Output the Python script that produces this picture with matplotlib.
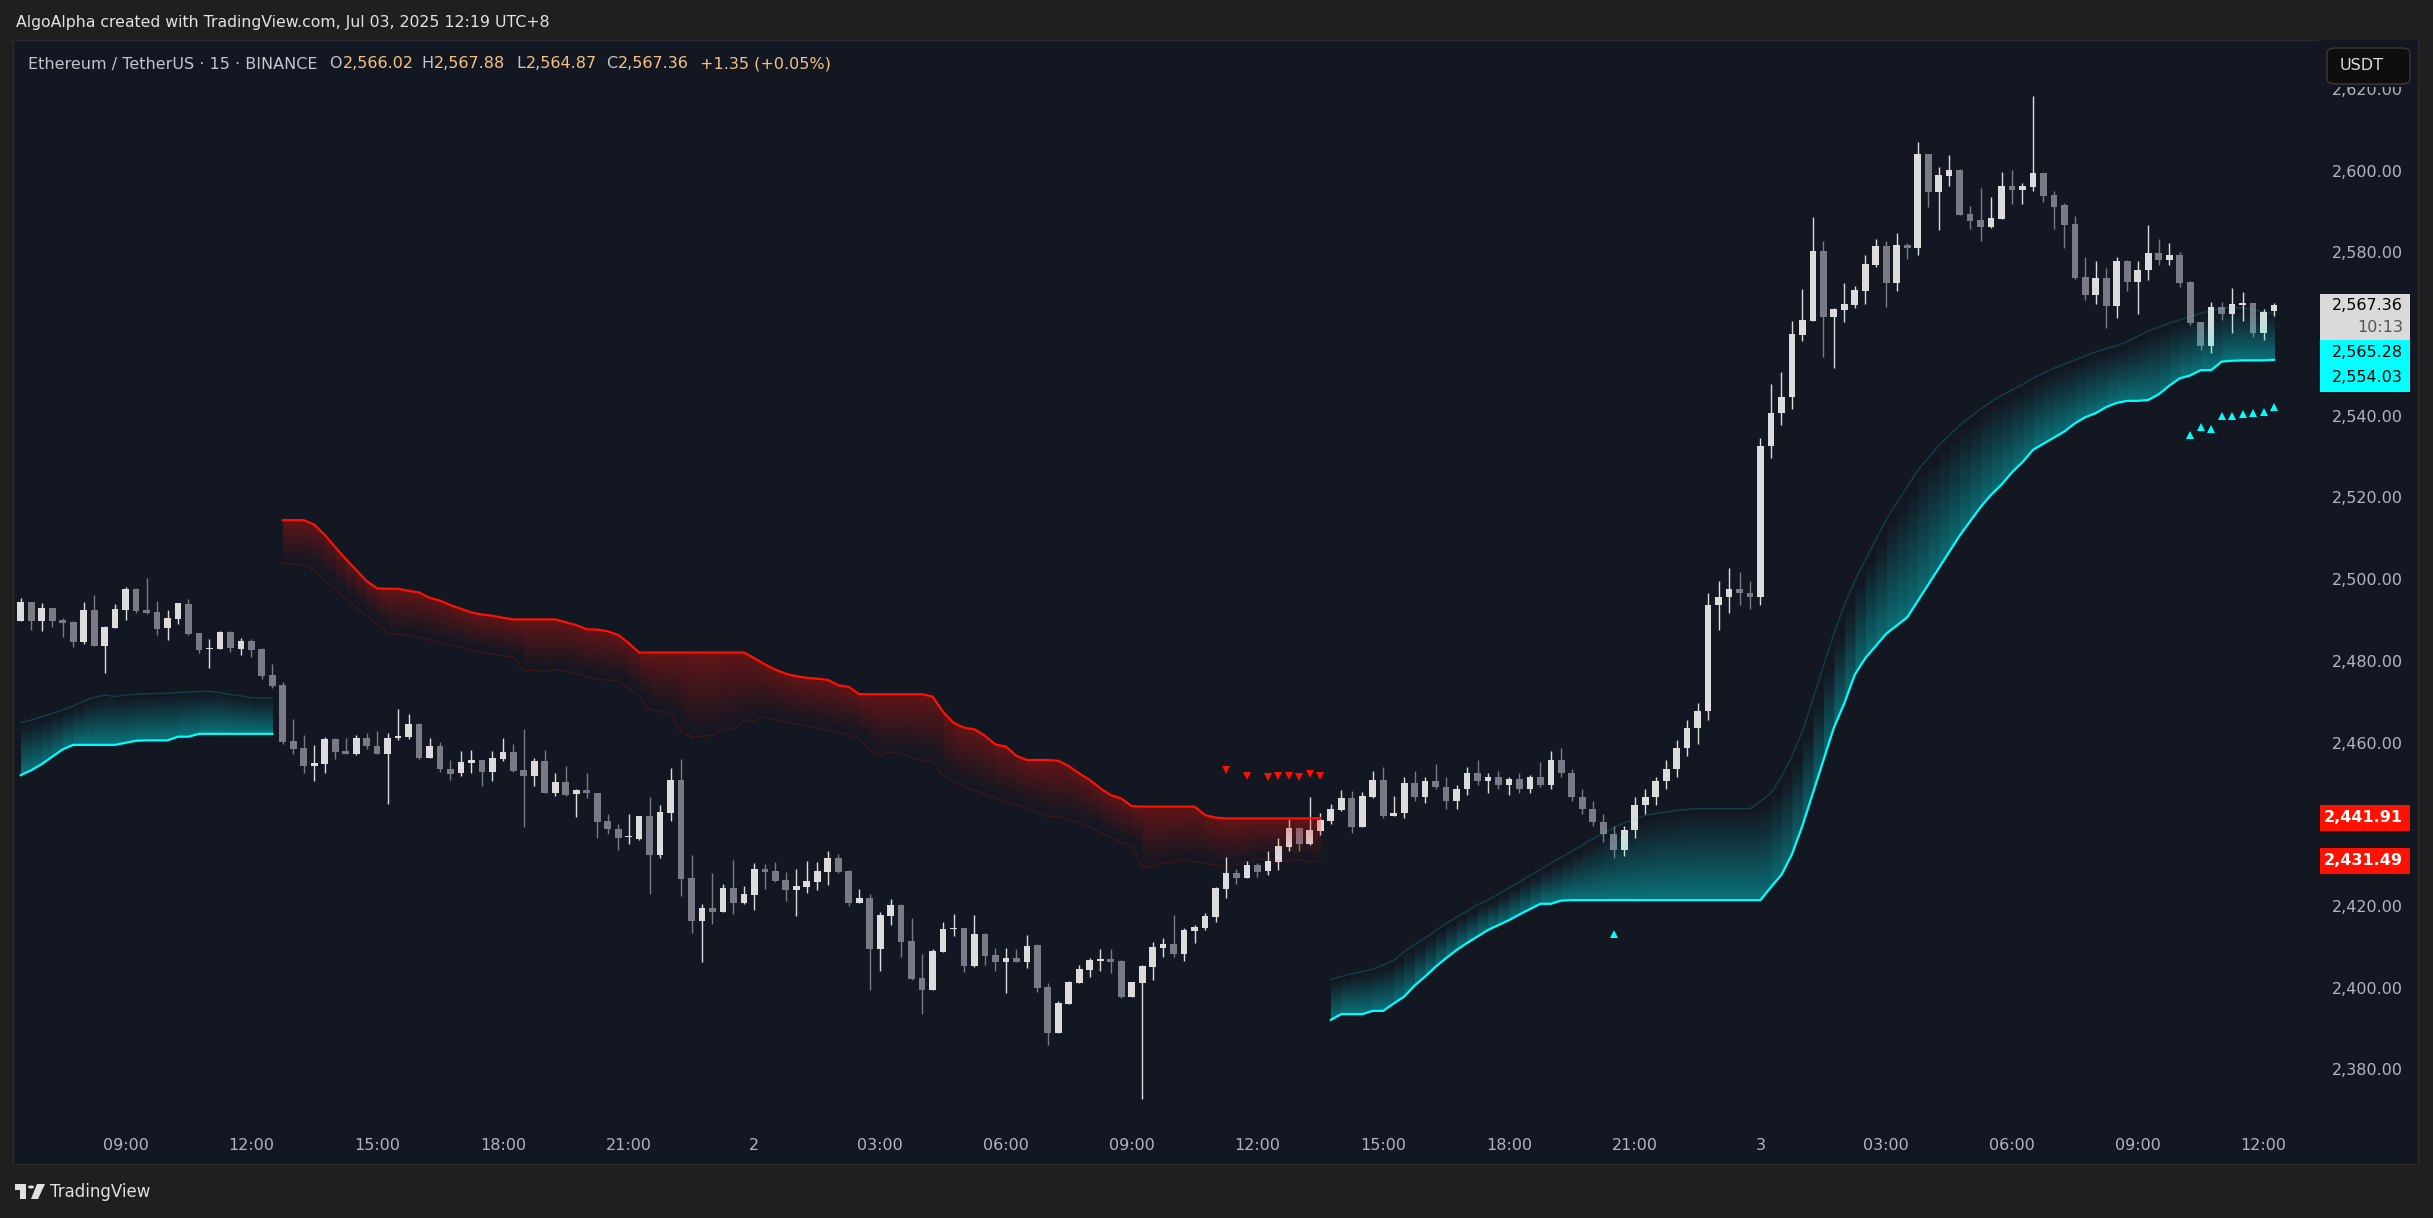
import numpy as np
import pandas as pd
import matplotlib

matplotlib.use("Agg")

import matplotlib.pyplot as plt
import matplotlib.colors as mcolors
import matplotlib.transforms as mtransforms
from matplotlib.patches import Rectangle, FancyBboxPatch, Circle, Polygon


# ETHUSDT 15m candles, first bar is Jul 1 06:30
start_time = "2025-07-01 06:30"

opens = [
    2490.1, 2494.7, 2490.0, 2493.2, 2490.4, 2489.9, 2485.0, 2492.8, 2484.1, 2488.5,
    2492.8, 2497.9, 2492.8, 2492.3, 2488.5, 2490.6, 2494.3, 2487.2, 2483.3, 2483.3,
    2487.4, 2483.3, 2485.2, 2483.3, 2476.9, 2474.4, 2460.7, 2459.0, 2454.7, 2455.2,
    2461.2, 2458.3, 2457.6, 2461.5, 2459.5, 2457.6, 2461.6, 2461.8, 2464.9, 2456.7,
    2459.5, 2454.0, 2452.8, 2455.4, 2456.1, 2453.1, 2456.3, 2458.0, 2453.6, 2452.2,
    2455.8, 2448.1, 2450.7, 2447.7, 2448.7, 2447.9, 2441.2, 2439.2, 2437.2, 2436.8,
    2442.4, 2432.9, 2443.2, 2451.2, 2427.2, 2416.8, 2419.9, 2419.0, 2424.8, 2421.2,
    2423.1, 2429.4, 2428.9, 2426.7, 2424.4, 2425.1, 2426.3, 2428.8, 2432.1, 2428.9,
    2421.2, 2422.3, 2409.9, 2418.0, 2420.6, 2411.8, 2402.7, 2399.9, 2409.2, 2414.8,
    2415.0, 2405.8, 2413.5, 2408.4, 2406.7, 2407.6, 2406.7, 2410.8, 2400.5, 2389.4,
    2396.4, 2401.6, 2404.8, 2407.0, 2407.4, 2406.9, 2398.2, 2401.6, 2405.5, 2410.2,
    2411.0, 2408.7, 2414.3, 2415.1, 2417.7, 2424.5, 2428.4, 2427.3, 2430.4, 2428.9,
    2431.2, 2434.8, 2439.5, 2435.5, 2438.7, 2441.2, 2443.9, 2446.8, 2439.7, 2447.1,
    2451.2, 2442.4, 2443.1, 2450.5, 2447.0, 2451.0, 2449.5, 2446.0, 2449.0, 2453.0,
    2451.0, 2452.0, 2450.0, 2451.5, 2449.0, 2452.0, 2450.0, 2456.0, 2453.0, 2447.0,
    2444.0, 2441.0, 2438.0, 2434.0, 2439.0, 2445.0, 2447.0, 2451.0, 2454.0, 2459.0,
    2464.0, 2468.0, 2494.0, 2496.0, 2498.0, 2497.0, 2496.0, 2533.0, 2541.0, 2545.0,
    2560.1, 2563.6, 2580.7, 2564.4, 2566.2, 2567.5, 2570.9, 2577.3, 2581.9, 2572.9,
    2582.1, 2581.5, 2604.4, 2595.2, 2599.1, 2600.5, 2589.7, 2588.2, 2586.5, 2588.6,
    2596.6, 2595.7, 2596.3, 2599.8, 2594.4, 2591.9, 2587.3, 2574.3, 2570.0, 2574.1,
    2567.3, 2578.2, 2573.2, 2575.9, 2580.2, 2578.5, 2579.7, 2573.1, 2563.4, 2557.4,
    2567.0, 2565.3, 2567.5, 2568.0, 2560.7, 2566.02,
]
highs = [
    2495.7, 2494.8, 2494.4, 2493.4, 2490.8, 2490.0, 2494.7, 2496.5, 2488.9, 2494.2,
    2498.5, 2498.3, 2500.6, 2494.9, 2492.8, 2494.6, 2495.4, 2487.2, 2485.8, 2487.7,
    2487.6, 2485.9, 2485.6, 2483.4, 2479.6, 2475.1, 2466.1, 2462.2, 2459.8, 2461.7,
    2461.4, 2461.5, 2462.2, 2462.6, 2463.3, 2462.6, 2468.5, 2467.3, 2465.1, 2461.4,
    2460.4, 2456.0, 2458.2, 2458.5, 2456.2, 2458.2, 2461.4, 2460.0, 2463.8, 2456.5,
    2458.5, 2452.8, 2454.6, 2448.9, 2452.8, 2448.1, 2443.0, 2440.4, 2442.9, 2442.5,
    2447.0, 2445.1, 2454.1, 2456.3, 2432.8, 2420.8, 2428.4, 2425.7, 2431.6, 2425.3,
    2431.0, 2430.6, 2431.1, 2428.7, 2429.4, 2431.4, 2431.1, 2433.8, 2433.2, 2429.1,
    2424.5, 2423.3, 2418.8, 2422.1, 2420.8, 2417.4, 2408.6, 2409.8, 2416.4, 2418.4,
    2415.1, 2418.2, 2413.7, 2410.1, 2410.1, 2409.9, 2413.2, 2411.0, 2401.4, 2397.1,
    2401.9, 2405.9, 2407.6, 2409.8, 2409.8, 2407.1, 2401.8, 2405.9, 2411.6, 2412.6,
    2418.2, 2414.9, 2415.7, 2418.6, 2425.1, 2432.3, 2429.3, 2431.4, 2430.8, 2433.8,
    2436.9, 2441.7, 2439.8, 2447.0, 2443.1, 2445.3, 2448.8, 2448.5, 2448.3, 2453.4,
    2454.4, 2447.3, 2452.0, 2453.5, 2452.0, 2455.0, 2452.0, 2450.0, 2454.5, 2456.0,
    2453.0, 2453.5, 2452.0, 2453.0, 2452.5, 2455.5, 2458.3, 2459.0, 2454.0, 2449.0,
    2446.0, 2443.0, 2440.0, 2440.0, 2447.0, 2449.0, 2452.0, 2456.0, 2461.0, 2466.0,
    2470.0, 2497.0, 2500.0, 2503.0, 2502.0, 2500.0, 2535.0, 2548.0, 2551.0, 2563.6,
    2571.4, 2589.0, 2583.1, 2566.6, 2572.9, 2572.1, 2579.7, 2583.6, 2583.1, 2585.1,
    2582.6, 2607.3, 2604.4, 2601.2, 2604.2, 2600.7, 2591.7, 2596.1, 2593.9, 2600.0,
    2600.5, 2597.3, 2618.6, 2599.8, 2595.3, 2592.4, 2589.2, 2579.2, 2578.2, 2576.5,
    2579.2, 2578.5, 2578.2, 2587.0, 2583.6, 2582.6, 2580.4, 2573.4, 2563.4, 2568.3,
    2568.3, 2571.7, 2570.7, 2568.0, 2566.4, 2567.88,
]
lows = [
    2490.0, 2487.9, 2487.7, 2488.7, 2486.3, 2483.8, 2484.6, 2484.0, 2477.3, 2488.4,
    2490.4, 2492.0, 2491.9, 2486.7, 2485.5, 2489.4, 2486.8, 2482.2, 2478.7, 2483.2,
    2482.6, 2481.8, 2481.4, 2476.0, 2473.8, 2459.9, 2457.5, 2452.8, 2451.0, 2453.0,
    2456.3, 2457.5, 2457.3, 2458.9, 2457.5, 2445.4, 2461.0, 2461.2, 2456.3, 2456.5,
    2453.1, 2451.3, 2452.2, 2452.8, 2449.8, 2451.0, 2455.8, 2453.2, 2439.8, 2449.7,
    2447.9, 2447.4, 2447.4, 2442.2, 2446.7, 2436.9, 2437.9, 2434.1, 2435.5, 2436.5,
    2423.4, 2432.2, 2441.2, 2422.9, 2413.8, 2406.7, 2416.0, 2418.8, 2418.5, 2420.9,
    2419.4, 2424.5, 2426.2, 2421.7, 2418.0, 2423.6, 2424.4, 2425.6, 2428.5, 2420.4,
    2421.1, 2399.9, 2404.5, 2415.8, 2407.9, 2402.3, 2394.0, 2399.8, 2409.1, 2412.9,
    2404.3, 2405.5, 2405.9, 2404.5, 2399.1, 2406.6, 2405.3, 2399.3, 2386.4, 2389.3,
    2396.4, 2401.4, 2403.1, 2404.4, 2404.0, 2397.9, 2398.1, 2373.1, 2402.3, 2407.8,
    2408.0, 2407.0, 2411.4, 2414.6, 2416.5, 2422.4, 2425.7, 2427.1, 2427.5, 2428.0,
    2429.2, 2433.8, 2433.8, 2435.4, 2437.7, 2440.4, 2443.6, 2438.2, 2439.6, 2446.9,
    2441.9, 2442.3, 2442.0, 2446.0, 2445.5, 2449.0, 2444.0, 2444.0, 2447.5, 2450.0,
    2448.0, 2449.0, 2447.5, 2448.0, 2448.0, 2449.5, 2449.0, 2452.0, 2446.0, 2443.0,
    2440.0, 2436.0, 2432.0, 2432.5, 2437.0, 2443.0, 2445.0, 2449.0, 2452.0, 2457.0,
    2460.0, 2466.0, 2488.0, 2492.0, 2494.0, 2493.0, 2494.0, 2530.0, 2538.0, 2542.0,
    2558.7, 2563.5, 2554.8, 2552.1, 2563.4, 2566.8, 2567.8, 2576.8, 2567.0, 2570.9,
    2578.8, 2579.8, 2591.5, 2585.9, 2596.6, 2589.4, 2586.1, 2583.0, 2586.4, 2588.5,
    2592.2, 2592.2, 2595.4, 2592.7, 2586.1, 2581.5, 2573.9, 2568.7, 2567.8, 2561.9,
    2564.3, 2571.0, 2565.3, 2573.6, 2577.3, 2577.3, 2571.9, 2562.6, 2556.4, 2555.8,
    2563.8, 2560.5, 2563.5, 2559.7, 2558.9, 2564.87,
]
closes = [
    2494.7, 2490.0, 2493.3, 2490.1, 2489.7, 2485.0, 2492.8, 2484.1, 2488.6, 2493.0,
    2497.9, 2492.6, 2492.0, 2488.2, 2490.8, 2494.4, 2486.9, 2483.0, 2483.5, 2487.4,
    2483.5, 2485.2, 2483.0, 2476.7, 2474.2, 2460.5, 2458.8, 2454.7, 2455.4, 2461.2,
    2458.1, 2457.6, 2461.5, 2459.4, 2457.6, 2461.6, 2462.0, 2464.9, 2456.5, 2459.5,
    2454.0, 2452.6, 2455.6, 2456.1, 2453.1, 2456.5, 2458.0, 2453.4, 2452.2, 2455.8,
    2448.1, 2450.7, 2447.5, 2448.7, 2447.9, 2441.0, 2439.1, 2437.1, 2437.3, 2442.4,
    2432.9, 2443.4, 2451.2, 2427.0, 2416.8, 2419.9, 2419.0, 2424.8, 2421.2, 2423.3,
    2429.4, 2428.8, 2426.6, 2424.3, 2425.3, 2426.5, 2428.9, 2432.1, 2428.8, 2421.2,
    2422.3, 2409.9, 2418.2, 2420.6, 2411.6, 2402.6, 2399.9, 2409.3, 2414.7, 2415.0,
    2405.8, 2413.5, 2408.2, 2406.7, 2407.6, 2406.7, 2410.6, 2400.4, 2389.4, 2396.6,
    2401.7, 2404.9, 2407.1, 2407.3, 2406.6, 2398.1, 2401.7, 2405.7, 2410.3, 2411.0,
    2408.7, 2414.5, 2415.2, 2417.9, 2424.7, 2428.4, 2427.3, 2430.4, 2428.8, 2431.4,
    2435.1, 2439.5, 2435.5, 2439.0, 2441.4, 2444.1, 2446.8, 2439.7, 2447.3, 2451.2,
    2442.4, 2443.1, 2450.5, 2447.0, 2451.0, 2449.5, 2446.0, 2449.0, 2453.0, 2451.0,
    2452.0, 2450.0, 2451.5, 2449.0, 2452.0, 2450.0, 2456.0, 2453.0, 2447.0, 2444.0,
    2441.0, 2438.0, 2434.0, 2439.0, 2445.0, 2447.0, 2451.0, 2454.0, 2459.0, 2464.0,
    2468.0, 2494.0, 2496.0, 2498.0, 2497.0, 2496.0, 2533.0, 2541.0, 2545.0, 2560.4,
    2563.8, 2580.7, 2564.4, 2566.5, 2567.7, 2571.1, 2577.5, 2581.9, 2572.9, 2582.1,
    2581.5, 2604.4, 2595.2, 2599.3, 2600.5, 2589.6, 2588.1, 2586.6, 2588.7, 2596.6,
    2595.7, 2596.6, 2599.8, 2594.2, 2591.5, 2587.0, 2574.1, 2570.0, 2574.1, 2567.3,
    2578.2, 2573.2, 2576.0, 2580.2, 2578.5, 2579.7, 2572.9, 2563.1, 2557.4, 2567.0,
    2565.3, 2567.7, 2567.9, 2560.7, 2565.8, 2567.36,
]

# trailing band: bright line + faint outer edge, per bar
bull1_start = 0
bull1_line = [
    2452.4, 2453.6, 2455.1, 2456.9, 2458.7, 2459.8, 2459.8, 2459.8, 2459.8, 2459.8,
    2460.3, 2460.8, 2460.9, 2460.9, 2460.9, 2461.8, 2461.8, 2462.5, 2462.5, 2462.5,
    2462.5, 2462.5, 2462.5, 2462.5, 2462.5,
]
bull1_edge = [
    2465.2, 2465.9, 2466.7, 2467.5, 2468.3, 2469.3, 2470.5, 2471.4, 2472.0, 2471.6,
    2472.0, 2472.2, 2472.3, 2472.4, 2472.4, 2472.6, 2472.7, 2472.9, 2472.9, 2472.6,
    2472.1, 2471.8, 2471.3, 2471.3, 2471.3,
]

bear_start = 25
bear_line = [
    2514.8, 2514.8, 2514.8, 2513.7, 2511.2, 2508.2, 2505.3, 2502.6, 2499.9, 2498.1,
    2498.0, 2498.0, 2497.5, 2497.1, 2495.8, 2495.1, 2494.0, 2493.1, 2492.2, 2491.7,
    2491.4, 2490.9, 2490.5, 2490.5, 2490.5, 2490.5, 2490.5, 2489.8, 2489.1, 2488.1,
    2488.0, 2487.6, 2486.7, 2484.7, 2482.4, 2482.4, 2482.4, 2482.4, 2482.4, 2482.4,
    2482.4, 2482.4, 2482.4, 2482.4, 2482.4, 2481.0, 2479.5, 2478.2, 2477.2, 2476.6,
    2476.2, 2476.0, 2475.7, 2474.4, 2474.0, 2472.2, 2472.2, 2472.2, 2472.2, 2472.2,
    2472.2, 2472.2, 2471.6, 2467.9, 2465.2, 2464.0, 2463.6, 2462.0, 2459.9, 2459.4,
    2457.1, 2456.1, 2456.1, 2456.1, 2455.9, 2454.6, 2452.8, 2451.2, 2449.2, 2447.5,
    2446.7, 2444.8, 2444.7, 2444.7, 2444.7, 2444.7, 2444.7, 2444.7, 2442.6, 2442.0,
    2441.8, 2441.8, 2441.8, 2441.8, 2441.8, 2441.8, 2441.8, 2441.8, 2441.8, 2441.91,
]
bear_edge = [
    2504.4, 2504.1, 2503.7, 2502.5, 2500.2, 2497.9, 2495.6, 2493.5, 2491.3, 2489.4,
    2487.1, 2486.8, 2486.7, 2486.1, 2485.5, 2484.8, 2484.2, 2483.6, 2483.0, 2482.5,
    2482.0, 2481.6, 2481.3, 2477.9, 2478.1, 2477.7, 2478.3, 2477.9, 2477.3, 2476.5,
    2475.8, 2475.7, 2475.3, 2473.6, 2471.6, 2468.5, 2467.9, 2467.5, 2463.0, 2461.8,
    2461.8, 2462.2, 2463.6, 2463.8, 2465.5, 2465.7, 2466.7, 2466.0, 2465.4, 2464.9,
    2464.4, 2463.9, 2463.4, 2462.8, 2462.2, 2461.4, 2458.5, 2457.3, 2458.1, 2457.6,
    2456.7, 2456.1, 2455.7, 2452.4, 2450.8, 2449.6, 2448.7, 2447.8, 2446.7, 2445.9,
    2445.1, 2444.3, 2443.4, 2442.2, 2442.4, 2441.4, 2440.8, 2439.8, 2438.3, 2437.1,
    2435.9, 2435.2, 2430.0, 2430.0, 2431.0, 2431.0, 2431.8, 2431.2, 2430.8, 2430.4,
    2430.0, 2430.4, 2431.2, 2431.8, 2431.8, 2431.5, 2431.4, 2431.8, 2431.0, 2431.49,
]

bull2_start = 125
bull2_line = [
    2392.5, 2393.9, 2393.9, 2393.9, 2394.7, 2394.7, 2396.5, 2398.2, 2400.9, 2403.1,
    2405.5, 2407.6, 2409.6, 2411.3, 2412.9, 2414.5, 2415.7, 2416.9, 2418.3, 2419.6,
    2420.9, 2420.9, 2421.7, 2421.8, 2421.8, 2421.8, 2421.8, 2421.8, 2421.8, 2421.8,
    2421.8, 2421.8, 2421.8, 2421.8, 2421.8, 2421.8, 2421.8, 2421.8, 2421.8, 2421.8,
    2421.8, 2421.8, 2425.0, 2428.0, 2433.0, 2440.0, 2448.0, 2456.0, 2464.0, 2470.0,
    2477.0, 2481.0, 2484.0, 2487.0, 2489.0, 2491.0, 2495.0, 2499.0, 2503.0, 2507.0,
    2511.0, 2514.5, 2518.0, 2521.0, 2523.5, 2526.5, 2529.0, 2532.0, 2533.5, 2535.0,
    2536.5, 2538.5, 2540.0, 2541.0, 2542.5, 2543.5, 2544.0, 2544.0, 2544.2, 2545.6,
    2547.7, 2549.5, 2550.2, 2551.5, 2551.5, 2553.6, 2553.8, 2553.9, 2553.9, 2553.9,
    2554.03,
]
bull2_edge = [
    2402.4, 2403.1, 2403.8, 2404.3, 2404.9, 2405.9, 2407.1, 2409.2, 2410.9, 2412.5,
    2414.3, 2416.1, 2417.6, 2419.1, 2420.7, 2421.8, 2423.3, 2424.8, 2426.3, 2427.8,
    2429.3, 2430.8, 2432.3, 2433.8, 2435.3, 2436.8, 2438.2, 2439.5, 2440.7, 2441.7,
    2442.5, 2443.0, 2443.4, 2443.7, 2444.0, 2444.2, 2444.2, 2444.2, 2444.2, 2444.2,
    2444.2, 2446.0, 2448.0, 2452.0, 2457.0, 2463.0, 2471.0, 2479.0, 2487.0, 2494.0,
    2500.0, 2505.0, 2510.0, 2515.0, 2519.0, 2523.0, 2527.0, 2530.0, 2533.0, 2535.5,
    2538.0, 2540.0, 2542.0, 2543.8, 2545.3, 2546.7, 2548.0, 2549.5, 2550.8, 2552.0,
    2553.0, 2554.0, 2555.0, 2556.0, 2556.8, 2557.5, 2558.5, 2559.8, 2561.1, 2562.0,
    2563.0, 2563.8, 2564.6, 2565.4, 2566.1, 2566.6, 2566.9, 2566.7, 2566.3, 2565.8,
    2565.28,
]

# signal triangles
sell_bars = [115, 117, 119, 120, 121, 122, 123, 124]
sell_prices = [2453.6, 2452.2, 2452.0, 2452.2, 2452.2, 2452.0, 2452.7, 2452.2]
buy_bars = [152, 207, 208, 209, 210, 211, 212, 213, 214, 215]
buy_prices = [2413.4, 2535.6, 2537.7, 2537.0, 2540.3, 2540.3, 2540.8, 2541.0, 2541.3, 2542.6]

price_ticks = list(range(2380, 2621, 20))
countdown = "10:13"
day_change = 1.35
day_change_pct = 0.05


# colours
outer_bg = "#1f1f1f"
pane_bg = "#131722"
up_color = "#dcdcdc"
down_color = "#787b86"
bear_color = "#ff1100"
bull_color = "#00ffff"
axis_text = "#b2b5be"

W, H = 2433, 1218
fig = plt.figure(figsize=(W / 100, H / 100), dpi=100, facecolor=outer_bg)

# pane from x=13..2418 px, y=40..1164 px
pane_l, pane_r, pane_t, pane_b = 13, 2418, 40, 1164
ax = fig.add_axes([pane_l / W, 1 - pane_b / H, (pane_r - pane_l) / W, (pane_b - pane_t) / H])
ax.set_facecolor(pane_bg)
for s in ax.spines.values():
    s.set_color("#2b2b2b")
    s.set_linewidth(1.0)
ax.set_xticks([])
ax.set_yticks([])

x_lo, x_hi = -0.744, 228.74
y_lo, y_hi = 2357.22, 2632.31
px_per_unit = (pane_b - pane_t) / (y_hi - y_lo)


def xfrac(px):
    return (px - pane_l) / (pane_r - pane_l)


# candles
o = np.array(opens)
h = np.array(highs)
l = np.array(lows)
c = np.array(closes)
idx = np.arange(len(o))
colors = np.where(c >= o, up_color, down_color)
ax.vlines(idx, l, h, colors=colors, linewidth=1.0, zorder=2)
ax.bar(idx, np.maximum(np.abs(c - o), 0.3), bottom=np.minimum(o, c), width=0.64,
       color=colors, linewidth=0, zorder=3)


def draw_band(start, line_vals, edge_vals, color, top_alpha):
    line = np.array(line_vals, dtype=float)
    edge = np.array(edge_vals, dtype=float)
    xs = start + np.arange(len(line))
    n_cols = (len(line) - 1) * 16
    gx = np.linspace(xs[0], xs[-1], n_cols)
    lo = min(line.min(), edge.min())
    hi = max(line.max(), edge.max())
    n_rows = int((hi - lo) * 8) + 2
    gy = np.linspace(lo, hi, n_rows)
    li = np.interp(gx, xs, line)
    ei = np.interp(gx, xs, edge)
    # each bar-to-bar slice keeps the gradient of its own bar -> column stripes
    seg = np.clip((gx - xs[0]).astype(int), 0, len(line) - 2)
    span = line[seg] - edge[seg]
    span = np.where(np.abs(span) < 1e-6, 1e-6, span)
    t = np.clip((gy[:, None] - edge[seg][None, :]) / span[None, :], 0, 1)
    inside = (gy[:, None] >= np.minimum(li, ei)[None, :]) & (gy[:, None] <= np.maximum(li, ei)[None, :])
    rgba = np.zeros((n_rows, n_cols, 4))
    rgba[..., :3] = mcolors.to_rgb(color)
    rgba[..., 3] = top_alpha * t ** 1.1 * inside
    ax.imshow(rgba, extent=(xs[0], xs[-1], lo, hi), origin="lower", aspect="auto",
              interpolation="bilinear", zorder=4)
    ax.plot(xs, edge, color=color, alpha=0.18, lw=1.0, zorder=5)
    ax.plot(xs, line, color=color, lw=1.6, zorder=6, solid_joinstyle="round")


draw_band(bull1_start, bull1_line, bull1_edge, bull_color, 0.40)
draw_band(bear_start, bear_line, bear_edge, bear_color, 0.34)
draw_band(bull2_start, bull2_line, bull2_edge, bull_color, 0.40)

ax.plot(sell_bars, sell_prices, linestyle="none", marker="v", markersize=6,
        color=bear_color, markeredgewidth=0, zorder=7)
ax.plot(buy_bars, buy_prices, linestyle="none", marker="^", markersize=6,
        color=bull_color, markeredgewidth=0, zorder=7)

ax.set_xlim(x_lo, x_hi)
ax.set_ylim(y_lo, y_hi)

yt = mtransforms.blended_transform_factory(ax.transAxes, ax.transData)
label_x = xfrac(2403)

# value tags on the price scale (last values of price and bands)
tags = []
last = closes[-1]
top = last + 11.5 / px_per_unit
mid = last - 34.5 / px_per_unit
bot = mid - 52 / px_per_unit
tags.append((top, mid, "#dadada"))
tags.append((mid, bot, bull_color))
for v in [bear_line[-1], bear_edge[-1]]:
    tags.append((v + 13 / px_per_unit, v - 13 / px_per_unit, bear_color))

for y_top, y_bot, col in tags:
    ax.add_patch(Rectangle((xfrac(2320), y_bot), xfrac(2410) - xfrac(2320), y_top - y_bot,
                           transform=yt, facecolor=col, edgecolor="none", zorder=10))

ax.text(label_x, last, f"{last:,.2f}", transform=yt, ha="right", va="center",
        fontsize=11.5, color="#000000", zorder=11)
ax.text(label_x, last - 22 / px_per_unit, countdown, transform=yt, ha="right", va="center",
        fontsize=11.5, color="#555555", zorder=11)
ax.text(label_x, mid - 13 / px_per_unit, f"{bull2_edge[-1]:,.2f}", transform=yt, ha="right",
        va="center", fontsize=11.5, color="#000000", zorder=11)
ax.text(label_x, mid - 38 / px_per_unit, f"{bull2_line[-1]:,.2f}", transform=yt, ha="right",
        va="center", fontsize=11.5, color="#000000", zorder=11)
for v in [bear_line[-1], bear_edge[-1]]:
    ax.text(label_x, v, f"{v:,.2f}", transform=yt, ha="right", va="center",
            fontsize=11.5, color="#ffffff", fontweight="bold", zorder=11)

# price scale (ticks under a tag are hidden, like on the platform)
half_label = 8 / px_per_unit
for p in price_ticks:
    hidden = any(y_bot - half_label < p < y_top + half_label for y_top, y_bot, _ in tags)
    if hidden:
        continue
    ax.text(label_x, p, f"{p:,.2f}", transform=yt, ha="right", va="center",
            fontsize=11.5, color=axis_text, zorder=8)

# time scale
times = pd.date_range(start_time, periods=len(opens), freq="15min")
xt = mtransforms.blended_transform_factory(ax.transData, ax.transAxes)
time_y = (pane_b - 1145) / (pane_b - pane_t)
for i, t in enumerate(times):
    if t.minute == 0 and t.hour % 3 == 0:
        lab = str(t.day) if t.hour == 0 else t.strftime("%H:%M")
        ax.text(i, time_y, lab, transform=xt, ha="center", va="center",
                fontsize=11.5, color=axis_text)

# cover above price scale + currency button
ax.add_patch(Rectangle((xfrac(2318), (pane_b - 87) / (pane_b - pane_t)), 1 - xfrac(2318), 1,
                       transform=ax.transAxes, facecolor=pane_bg, edgecolor="none", zorder=9))
btn = FancyBboxPatch((xfrac(2327), (pane_b - 84) / (pane_b - pane_t)),
                     xfrac(2410) - xfrac(2327), 36 / (pane_b - pane_t),
                     boxstyle="round,pad=0.0,rounding_size=0.004", transform=ax.transAxes,
                     facecolor="#0e0e0e", edgecolor="#3a3a3a", linewidth=1.0, zorder=10)
ax.add_patch(btn)
ax.text(xfrac(2362), (pane_b - 66) / (pane_b - pane_t), "USDT", transform=ax.transAxes,
        ha="center", va="center", fontsize=11.5, color="#dcdcdc", zorder=11)

# header
fig.text(16 / W, 1 - 23 / H, "AlgoAlpha created with TradingView.com, Jul 03, 2025 12:19 UTC+8",
         ha="left", va="center", fontsize=11.3, color="#e3e3e3")

legend_y = 1 - 64 / H
label_color = "#c3c5cc"
value_color = "#f7c27e"
fig.text(27.6 / W, legend_y, "Ethereum / TetherUS \u00b7 15 \u00b7 BINANCE", ha="left", va="center",
         fontsize=11.5, color=label_color)
ohlc_parts = [
    (343.0, "O", opens[-1]),
    (434.0, "H", highs[-1]),
    (526.0, "L", lows[-1]),
    (618.0, "C", closes[-1]),
]
for vx, letter, val in ohlc_parts:
    fig.text((vx - 1) / W, legend_y, letter, ha="right", va="center", fontsize=11.5, color=label_color)
    fig.text(vx / W, legend_y, f"{val:,.2f}", ha="left", va="center", fontsize=11.5, color=value_color)
fig.text(700 / W, legend_y, f"{day_change:+.2f} ({day_change_pct:+.2f}%)", ha="left",
         va="center", fontsize=11.5, color=value_color)

# footer logo
logo_color = "#e0e0e0"


def fpx(x, y):
    return (x / W, 1 - y / H)


fig.add_artist(Rectangle(fpx(15, 1190), 11 / W, 6 / H, transform=fig.transFigure,
                         facecolor=logo_color, edgecolor="none"))
fig.add_artist(Rectangle(fpx(20, 1199), 6 / W, 15 / H, transform=fig.transFigure,
                         facecolor=logo_color, edgecolor="none"))
fig.add_artist(Circle(fpx(31, 1187), 3 / W, transform=fig.transFigure,
                      facecolor=logo_color, edgecolor="none"))
fig.add_artist(Polygon([fpx(37, 1184), fpx(45, 1184), fpx(38, 1199), fpx(31, 1199)],
                       closed=True, transform=fig.transFigure, facecolor=logo_color,
                       edgecolor="none"))
fig.text(50 / W, 1 - 1192 / H, "TradingView", ha="left", va="center", fontsize=12,
         color=logo_color)

fig.savefig("out.png", dpi=100, facecolor=outer_bg)
